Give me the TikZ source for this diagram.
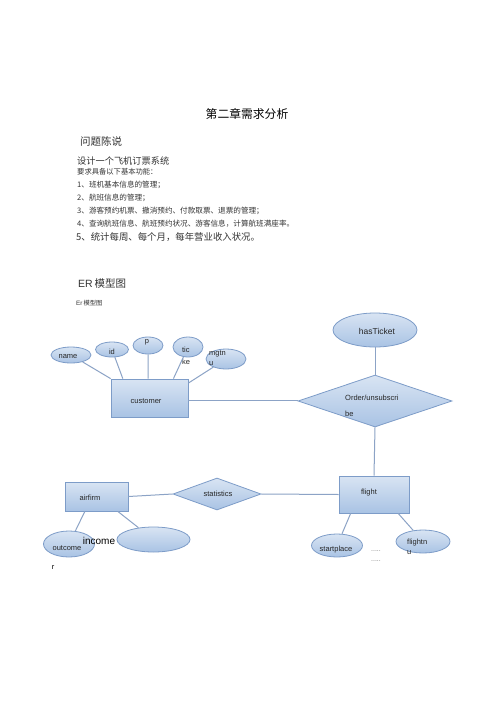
\documentclass[tikz,border=0pt]{standalone}
\usepackage{fontspec}
\setmainfont{Liberation Sans}
\newfontfamily\cjk{Noto Sans CJK SC}
\usetikzlibrary{shapes.geometric}
\definecolor{erfill}{HTML}{A9C3E4}
\definecolor{erdraw}{HTML}{7D9CC8}
\definecolor{erlink}{HTML}{8CA3C6}
\tikzset{
  entity/.style={draw=erdraw, line width=0.8pt, top color=erfill!45!white, bottom color=erfill,
    inner sep=0pt, font=\fontsize{7.5}{9}\selectfont, text=black!85},
  attr/.style={entity, ellipse},
  rel/.style={entity, diamond},
  link/.style={draw=erlink, line width=1pt},
  lbl/.style={inner sep=0pt, font=\fontsize{7.5}{9}\selectfont, text=black!85},
  para/.style={anchor=west, inner sep=0pt, text=black!80},
}
\begin{document}
\begin{tikzpicture}[x=1pt, y=-1pt]
  \useasboundingbox[fill=white] (0,0) rectangle (500,707);
  \node (title) at (247,114) {\cjk\fontsize{11.8}{14}\selectfont 第二章需求分析};
  \node[para] (prob) at (80,141) {\cjk\fontsize{10.5}{12}\selectfont 问题陈说};
  \node[para] (task) at (77,161) {\cjk\fontsize{9.2}{11}\selectfont 设计一个飞机订票系统};
  \node[para] (req) at (77,172) {\cjk\fontsize{7.3}{9}\selectfont 要求具备以下基本功能：};
  \node[para] (req1) at (77,185) {\cjk\fontsize{7.6}{9}\selectfont 1、班机基本信息的管理；};
  \node[para] (req2) at (77,198) {\cjk\fontsize{7.6}{9}\selectfont 2、航班信息的管理；};
  \node[para] (req3) at (77,211) {\cjk\fontsize{7.6}{9}\selectfont 3、游客预约机票、撤消预约、付款取票、退票的管理；};
  \node[para] (req4) at (77,224) {\cjk\fontsize{7.6}{9}\selectfont 4、查询航班信息、航班预约状况、游客信息，计算航班满座率。};
  \node[para] (req5) at (76,237) {\cjk\fontsize{9.4}{11}\selectfont 5、统计每周、每个月，每年营业收入状况。};
  \node[para] (erhead) at (78,284) {\fontsize{10.5}{12}\selectfont ER\,{\cjk 模型图}};
  \node[para] (ersub) at (76,303) {\fontsize{6.3}{8}\selectfont Er\,{\cjk 模型图}};

  \node[entity, minimum width=77pt, minimum height=38pt] (cust) at (149.5,398) {};
  \node[lbl] (custT) at (146,401) {customer};
  \node[attr, minimum width=40pt, minimum height=16pt] (name) at (71,355) {};
  \node[lbl] (nameT) at (68,357) {name};
  \node[attr, minimum width=33pt, minimum height=15pt] (id) at (112,349.5) {};
  \node[lbl] (idT) at (112,352) {id};
  \node[attr, minimum width=30pt, minimum height=17pt] (p) at (148,345.5) {};
  \node[lbl] (pT) at (147,342) {p};
  \node[attr, minimum width=30pt, minimum height=20pt] (tic) at (188,347) {};
  \node[lbl, align=left, font=\fontsize{7.5}{12}\selectfont] (ticT) at (186,356) {tic\\ke};
  \node[attr, minimum width=40pt, minimum height=20pt] (mgtn) at (226,359) {};
  \node[lbl, anchor=west, align=left, font=\fontsize{7.5}{10}\selectfont] (mgtnT) at (209,358) {mgtn\\u};

  \node[attr, minimum width=84pt, minimum height=34pt] (has) at (375,330) {};
  \node[lbl, font=\fontsize{8.5}{10}\selectfont] (hasT) at (377,331) {hasTicket};
  \node[rel, minimum width=154pt, minimum height=52pt] (order) at (375,401) {};
  \node[lbl, anchor=west, align=left, font=\fontsize{7.5}{16}\selectfont] (orderT) at (345,406) {Order/unsubscri\\be};

  \node[entity, minimum width=70pt, minimum height=37pt] (flight) at (374,494.5) {};
  \node[lbl] (flightT) at (369,493) {flight};
  \node[attr, minimum width=51pt, minimum height=23pt] (start) at (337,545.5) {};
  \node[lbl] (startT) at (336,550) {startplace};
  \node[attr, minimum width=54pt, minimum height=23pt] (fno) at (423,541.5) {};
  \node[lbl, anchor=west, align=left, font=\fontsize{7.5}{10}\selectfont] (fnoT) at (407,547) {flightn\\u};
  \node[lbl, text=black!50, font=\fontsize{7}{8}\selectfont] (dots1) at (376,551) {.....};
  \node[lbl, text=black!50, font=\fontsize{7}{8}\selectfont] (dots2) at (376,561) {.....};

  \node[rel, minimum width=88pt, minimum height=32pt] (stat) at (217,494) {};
  \node[lbl] (statT) at (218,494) {statistics};
  \node[entity, minimum width=63pt, minimum height=29pt] (air) at (96.5,496.5) {};
  \node[lbl] (airT) at (90,498) {airfirm};
  \node[attr, minimum width=51pt, minimum height=26pt] (out) at (69,544) {};
  \node[lbl] (outT) at (67,548) {outcome};
  \node[attr, minimum width=73pt, minimum height=25pt] (inc) at (153.5,539.5) {};
  \node[lbl, text=black, font=\fontsize{10}{12}\selectfont] (incT) at (99,541) {income};
  \node[lbl, text=black] (rT) at (53,567) {r};

  \draw[link] (name) -- (cust.north west);
  \draw[link] (id) -- (cust.144);
  \draw[link] (p) -- (cust.94);
  \draw[link] (tic) -- (cust.39);
  \draw[link] (mgtn) -- (cust.21);
  \draw[link] (cust.east) ++(0,2) -- (order.west |- 0,400);
  \draw[link] (has) -- (order.north);
  \draw[link] (order.south) -- (flight.north);
  \draw[link] (flight.219) -- (start);
  \draw[link] (flight.322) -- (fno);
  \draw[link] (flight.west) -- (stat.east);
  \draw[link] (air.east) -- (stat.west);
  \draw[link] (air.232) -- (out);
  \draw[link] (air.325) -- (inc);
\end{tikzpicture}
\end{document}
